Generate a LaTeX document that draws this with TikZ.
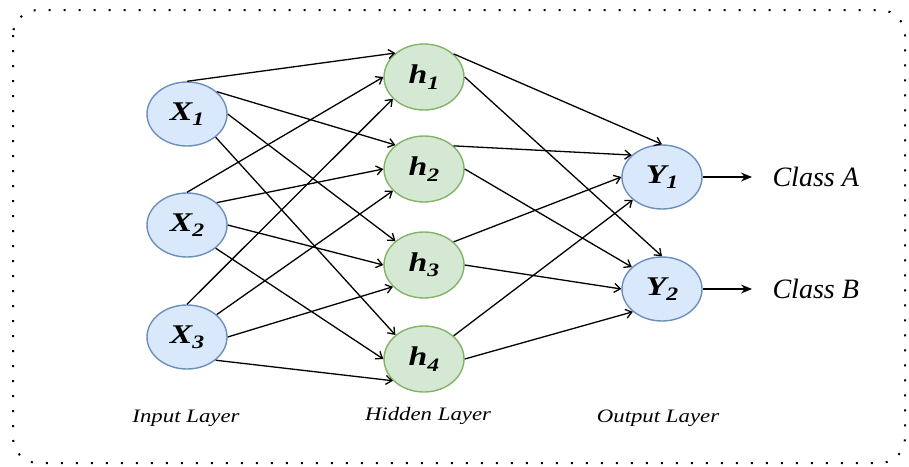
\documentclass[tikz,border=0pt]{standalone}
\usepackage{fontspec}
\setmainfont{Liberation Serif}
\usetikzlibrary{arrows.meta,shapes.geometric}
\definecolor{inblue}{HTML}{DAE8FC}
\definecolor{inblueline}{HTML}{6C8EBF}
\definecolor{hidgreen}{HTML}{D5E8D4}
\definecolor{hidgreenline}{HTML}{82B366}
\newcommand{\neuron}[2]{\scalebox{1.25}[1]{\fontsize{27}{27}\selectfont\bfseries\itshape #1\raisebox{-0.2em}{\fontsize{19}{19}\selectfont #2}}}
\tikzset{
  unit/.style={ellipse, minimum width=80pt, minimum height=64pt, inner sep=0pt, line width=1.4pt},
  inp/.style={unit, draw=inblueline, fill=inblue},
  hid/.style={unit, draw=hidgreenline, fill=hidgreen, minimum height=66pt},
  layername/.style={font=\fontsize{19}{19}\selectfont\itshape, xscale=1.2},
  classname/.style={font=\fontsize{28}{28}\selectfont\itshape, anchor=west}
}
\begin{document}
\begin{tikzpicture}[x=1pt, y=-1pt]
      \useasboundingbox (0,0) rectangle (909,466);
      \draw[rounded corners=25pt, line width=2pt, dash pattern=on 2pt off 13pt]
        (13,10) rectangle (905,463);
      \draw
        (187,114) node[inp] (x1){\neuron{X}{1}}
        (187,225) node[inp] (x2){\neuron{X}{2}}
        (187,337) node[inp] (x3){\neuron{X}{3}}
        (424,77) node[hid] (h1){\neuron{h}{1}}
        (424,169) node[hid] (h2){\neuron{h}{2}}
        (424,265) node[hid] (h3){\neuron{h}{3}}
        (424,359) node[hid] (h4){\neuron{h}{4}}
        (662,177) node[inp] (y1){\neuron{Y}{1}}
        (662,289) node[inp] (y2){\neuron{Y}{2}}
        (769,177) node[classname] (ca){Class A}
        (769,289) node[classname] (cb){Class B}
        (186,418) node[layername] (lin){Input Layer}
        (428,416) node[layername] (lhid){Hidden Layer}
        (658,418) node[layername] (lout){Output Layer};
      \begin{scope}[line width=1.3pt, -{Straight Barb[length=6pt,width=9pt,line width=1.3pt]}]
        \draw (x1.90) to (h1.140);
        \draw (x1.37) to (h2.140);
        \draw (x1.0) to (h3.140);
        \draw (x1.321) to (h4.140);
        \draw (x2.90) to (h1.180);
        \draw (x2.37) to (h2.180);
        \draw (x2.0) to (h3.180);
        \draw (x2.321) to (h4.180);
        \draw (x3.90) to (h1.215);
        \draw (x3.37) to (h2.215);
        \draw (x3.0) to (h3.215);
        \draw (x3.321) to (h4.215);
        \draw (h1.38) to (y1.90);
        \draw (h1.0) to (y2.90);
        \draw (h2.38) to (y1.144);
        \draw (h2.0) to (y2.144);
        \draw (h3.38) to (y1.180);
        \draw (h3.0) to (y2.180);
        \draw (h4.38) to (y1.218);
        \draw (h4.0) to (y2.218);
      \end{scope}
      \begin{scope}[line width=1.3pt, -{Stealth[length=11pt,width=9pt]}]
        \draw (y1.east) to (y1.east -| 752,0);
        \draw (y2.east) to (y2.east -| 752,0);
      \end{scope}
    \end{tikzpicture}
\end{document}
